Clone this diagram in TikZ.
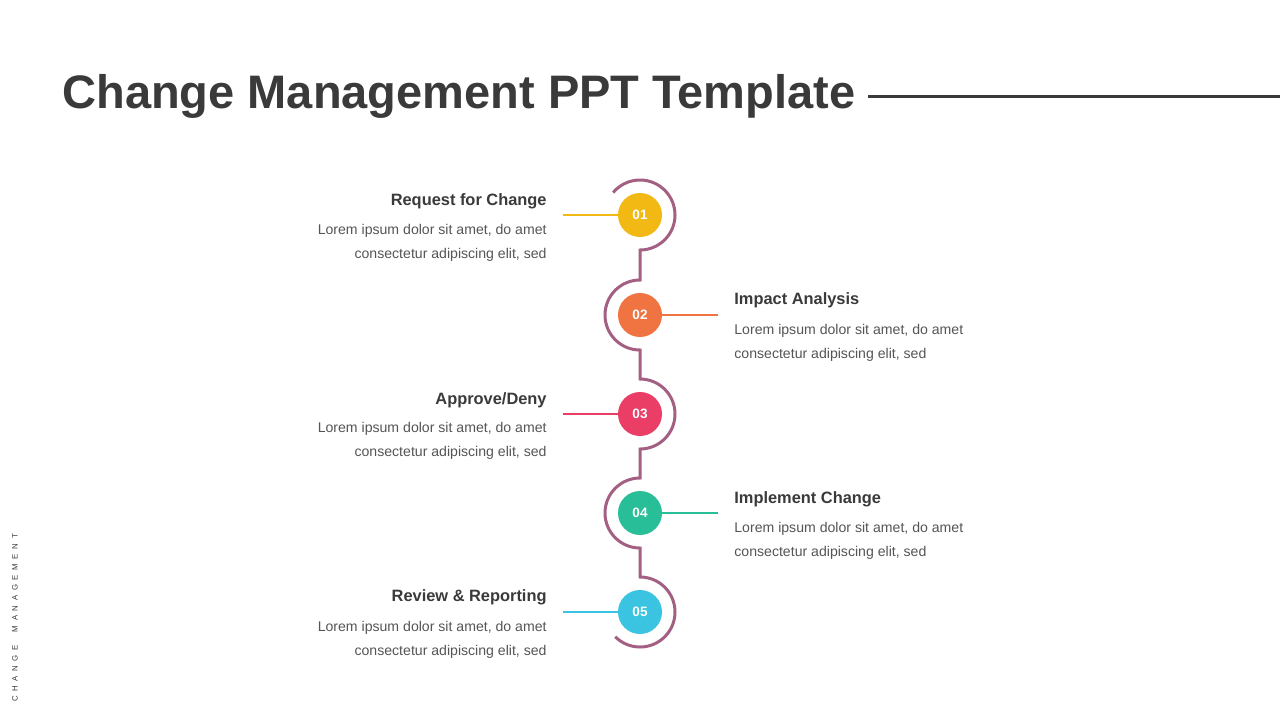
\documentclass[tikz,border=0pt]{standalone}
\usepackage{fontspec}
\usetikzlibrary{calc}
\setmainfont{Liberation Sans}
\newfontfamily\spacedfont[LetterSpace=60]{Liberation Sans}
\definecolor{titlegray}{RGB}{58,58,58}
\definecolor{bodygray}{RGB}{85,85,85}
\definecolor{pathmauve}{RGB}{163,96,130}
\definecolor{cyellow}{RGB}{242,184,20}
\definecolor{corange}{RGB}{240,116,66}
\definecolor{cpink}{RGB}{234,62,102}
\definecolor{cteal}{RGB}{40,190,152}
\definecolor{ccyan}{RGB}{58,196,226}
\tikzset{
  numdot/.style={circle, minimum size=22pt, inner sep=0pt, text=white, font=\fontsize{6.8}{8}\selectfont\bfseries},
  headtxt/.style={inner sep=0pt, text=titlegray, font=\fontsize{8.2}{10}\selectfont\bfseries},
  bodytxt/.style={inner sep=0pt, text=bodygray, font=\fontsize{7.05}{12}\selectfont},
  linkline/.style={line width=1.2pt},
  flowpath/.style={draw=pathmauve, line width=1.5pt}
}
\begin{document}
\begin{tikzpicture}[x=0.5pt,y=0.5pt]
\useasboundingbox[fill=white] (0,0) rectangle (1280,-720);
% title
\node[anchor=base west, inner sep=0pt, text=titlegray, font=\fontsize{23.5}{26}\selectfont\bfseries] (title) at (62,-108) {Change Management PPT Template};
\coordinate (rulestart) at (868,-96);
\coordinate (ruleend) at (1280,-96);
\draw[titlegray, line width=1.5pt] (rulestart) -- (ruleend);
% side label
\node[rotate=90, inner sep=0pt, text=titlegray, font=\fontsize{3.9}{5}\spacedfont] (side) at (15,-618) {CHANGE\hspace{6.5pt}MANAGEMENT};
% centres
\coordinate (c1) at (640,-215);
\coordinate (c2) at (640,-315);
\coordinate (c3) at (640,-414);
\coordinate (c4) at (640,-513);
\coordinate (c5) at (640,-612);
% flow path
\draw[flowpath] ($(c1)+(140:17.5pt)$) arc[start angle=140, end angle=-90, radius=17.5pt]
  -- ($(c2)+(0,35)$) arc[start angle=90, end angle=270, radius=17.5pt]
  -- ($(c3)+(0,35)$) arc[start angle=90, end angle=-90, radius=17.5pt]
  -- ($(c4)+(0,35)$) arc[start angle=90, end angle=270, radius=17.5pt]
  -- ($(c5)+(0,35)$) arc[start angle=90, end angle=-135, radius=17.5pt];
% dots
\node[numdot, fill=cyellow] (n1) at (c1) {01};
\node[numdot, fill=corange] (n2) at (c2) {02};
\node[numdot, fill=cpink] (n3) at (c3) {03};
\node[numdot, fill=cteal] (n4) at (c4) {04};
\node[numdot, fill=ccyan] (n5) at (c5) {05};
% link ends
\coordinate (e1) at (563,-215);
\coordinate (e2) at (718,-315);
\coordinate (e3) at (563,-414);
\coordinate (e4) at (718,-513);
\coordinate (e5) at (563,-612);
\draw[linkline, cyellow] (e1) -- (n1.west);
\draw[linkline, corange] (n2.east) -- (e2);
\draw[linkline, cpink] (e3) -- (n3.west);
\draw[linkline, cteal] (n4.east) -- (e4);
\draw[linkline, ccyan] (e5) -- (n5.west);
% texts
\node[headtxt, anchor=base east] (h1) at (547,-205) {Request for Change};
\node[bodytxt, anchor=base east, align=right] (b1) at (547,-258.5) {Lorem ipsum dolor sit amet, do amet\\consectetur adipiscing elit, sed};
\node[headtxt, anchor=base west] (h2) at (734,-304) {Impact Analysis};
\node[bodytxt, anchor=base west, align=left] (b2) at (734,-358.5) {Lorem ipsum dolor sit amet, do amet\\consectetur adipiscing elit, sed};
\node[headtxt, anchor=base east] (h3) at (547,-404) {Approve/Deny};
\node[bodytxt, anchor=base east, align=right] (b3) at (547,-456.5) {Lorem ipsum dolor sit amet, do amet\\consectetur adipiscing elit, sed};
\node[headtxt, anchor=base west] (h4) at (734,-503) {Implement Change};
\node[bodytxt, anchor=base west, align=left] (b4) at (734,-556.5) {Lorem ipsum dolor sit amet, do amet\\consectetur adipiscing elit, sed};
\node[headtxt, anchor=base east] (h5) at (547,-601) {Review \& Reporting};
\node[bodytxt, anchor=base east, align=right] (b5) at (547,-655.5) {Lorem ipsum dolor sit amet, do amet\\consectetur adipiscing elit, sed};
\end{tikzpicture}
\end{document}
